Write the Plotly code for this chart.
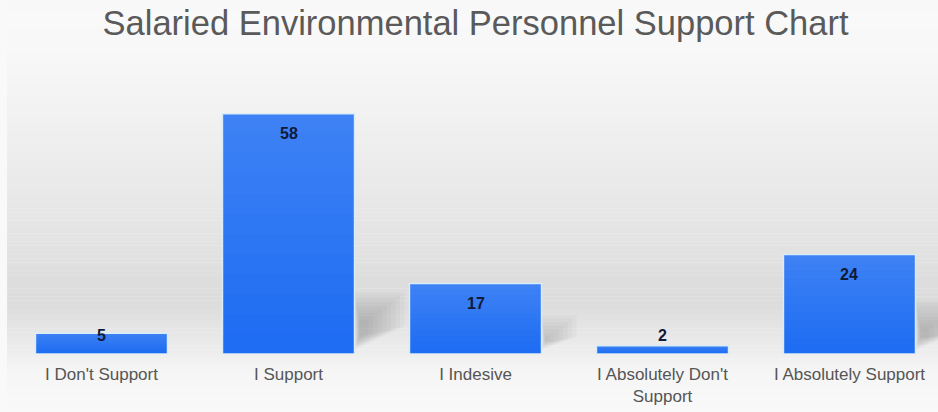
import plotly.graph_objects as go

categories = ["I Don't Support", "I Support", "I Indesive",
              "I Absolutely Don't<br>Support", "I Absolutely Support"]
values = [5, 58, 17, 2, 24]

W, H = 938, 412
M_L, M_R, M_T, M_B = 8, 0, 60, 58
Y_MAX = 71
X_RANGE = [-0.5, 4.4733]
BAR_W = 0.706

fig = go.Figure()

fig.add_trace(go.Bar(
    x=list(range(len(categories))),
    y=values,
    width=BAR_W,
    marker=dict(color="#1d6cf3", line=dict(color="#d6ecf8", width=1.5)),
    hoverinfo="x+y",
))

# soft wall-like shading behind the plot: vertical grey gradient
stops = [(0, 248), (20, 249), (60, 247), (120, 241), (200, 232), (250, 226),
         (280, 221), (305, 220), (320, 226), (354, 238), (370, 245), (412, 249)]
shapes = []
for i in range(len(stops) - 1):
    (y0, c0), (y1, c1) = stops[i], stops[i + 1]
    n = max(1, (y1 - y0) // 4)
    for k in range(n):
        ya = y0 + (y1 - y0) * k / n
        yb = y0 + (y1 - y0) * (k + 1) / n
        c = round(c0 + (c1 - c0) * (k + 0.5) / n)
        shapes.append(dict(type="rect", xref="paper", yref="paper",
                           x0=-0.001, x1=1.001,
                           y0=(H - M_B - yb) / (H - M_T - M_B),
                           y1=(H - M_B - ya) / (H - M_T - M_B) + 0.0005,
                           fillcolor=f"rgb({c},{c},{c})", line=dict(width=0),
                           layer="below"))

# pixel <-> data conversion factors
px_per_unit = (H - M_T - M_B) / Y_MAX
px_per_cat = (W - M_L - M_R) / (X_RANGE[1] - X_RANGE[0])

# faint diffuse cast shadow to the lower right of the taller bars
for i, v in enumerate(values):
    h_px = v * px_per_unit
    if h_px < 40:
        continue
    right = i + BAR_W / 2
    top_px = min(0.55 * h_px, 62)
    reach_px = min(0.5 * h_px, 50)
    for k in range(9):
        t = (top_px - k * 3.5) / px_per_unit
        r = right + max(reach_px - k * 4.5, 4) / px_per_cat
        l = right + (k * 0.6) / px_per_cat
        low_r = (top_px * 0.45 - k * 1.0) / px_per_unit
        low_l = (4 + k * 1.5) / px_per_unit
        path = f"M {l},{t} L {r},{t} L {r},{max(low_r, low_l)} L {l},{low_l} Z"
        shapes.append(dict(type="path", xref="x", yref="y", path=path,
                           fillcolor="rgba(0,0,0,0.022)", line=dict(width=0),
                           layer="below"))

# glossy sheen on each bar: white overlay fading from top to bottom
N_SHEEN = 12
for i, v in enumerate(values):
    for k in range(N_SHEEN):
        y_hi = v * (1 - k / N_SHEEN)
        y_lo = v * (1 - (k + 1) / N_SHEEN)
        a = 0.15 * (1 - (k + 0.5) / N_SHEEN)
        shapes.append(dict(type="rect", xref="x", yref="y",
                           x0=i - BAR_W / 2 + 0.004, x1=i + BAR_W / 2 - 0.004,
                           y0=y_lo, y1=y_hi,
                           fillcolor=f"rgba(255,255,255,{a:.3f})",
                           line=dict(width=0), layer="above"))

# value labels near the top of each bar, kept clear of the baseline
annotations = []
for i, v in enumerate(values):
    y_lab = max(v, 39 / px_per_unit)
    annotations.append(dict(x=i, y=y_lab, text=f"<b>{v}</b>", showarrow=False,
                            yshift=-20, yanchor="middle",
                            font=dict(family="Liberation Sans, Arial", size=16,
                                      color="#101a38")))

fig.update_layout(
    width=W, height=H,
    margin=dict(l=M_L, r=M_R, t=M_T, b=M_B, pad=0),
    paper_bgcolor="#f9f9f9",
    plot_bgcolor="rgba(0,0,0,0)",
    title=dict(text="Salaried Environmental Personnel Support Chart",
               x=0.507, xanchor="center", y=1 - 23 / H, yanchor="middle",
               font=dict(family="Liberation Sans, Arial", size=34.5, color="#5a5a5a")),
    xaxis=dict(range=X_RANGE, tickmode="array",
               tickvals=list(range(len(categories))), ticktext=categories,
               showgrid=False, zeroline=False, showline=False, ticks="",
               ticklabelstandoff=8,
               tickfont=dict(family="Liberation Sans, Arial", size=17, color="#555555")),
    yaxis=dict(range=[0, Y_MAX], visible=False, showgrid=False, fixedrange=True),
    shapes=shapes,
    annotations=annotations,
    showlegend=False,
    bargap=0.294,
)

fig.write_html("out.html")
